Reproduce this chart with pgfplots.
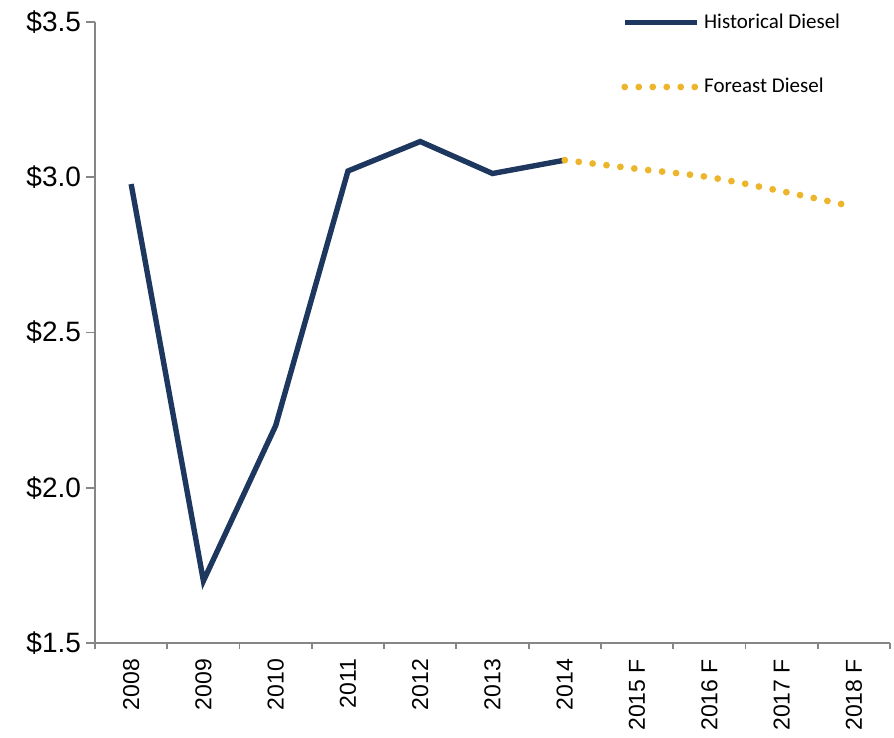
\documentclass[border=0pt]{standalone}
\usepackage{pgfplots}
\pgfplotsset{compat=1.18}
\usepackage{fontspec}
\setmainfont{Liberation Sans}
\newfontfamily\calibri{Carlito}
\definecolor{navy}{RGB}{30,55,95}
\definecolor{gold}{RGB}{237,181,43}
\definecolor{axisgray}{RGB}{134,134,134}

\begin{document}
\begin{tikzpicture}
\begin{axis}[
    scale only axis,
    width=397.5pt, height=310.5pt,
    xmin=-0.5, xmax=10.5, ymin=1.5, ymax=3.5,
    axis x line*=bottom, axis y line*=left,
    axis line style={draw=axisgray, line width=0.9pt},
    xtick={0,...,10},
    xticklabels={2008,2009,2010,2011,2012,2013,2014,2015 F,2016 F,2017 F,2018 F},
    minor xtick={-0.5,0.5,...,10.5},
    major x tick style={draw=none},
    minor x tick style={draw=axisgray, line width=0.9pt},
    y tick style={draw=axisgray, line width=0.9pt},
    tick align=outside,
    major tick length=4.5pt, minor tick length=3pt,
    ytick={1.5,2.0,2.5,3.0,3.5},
    yticklabels={\$1.5,\$2.0,\$2.5,\$3.0,\$3.5},
    yticklabel style={font=\fontsize{14}{16}\selectfont, text=black, xshift=1pt},
    xticklabel style={rotate=90, anchor=east, font=\fontsize{11.5}{13}\selectfont, text=black},
    clip=false,
    legend style={at={(0.654,1.027)}, anchor=north west, draw=none, fill=none,
        row sep=19.5pt, font=\calibri\fontsize{10.5}{12}\selectfont},
    legend cell align=left,
    legend image code/.code={\draw[#1] (0pt,0pt) -- (36pt,0pt);},
]
% Historical Diesel
\addplot[navy, line width=2.7pt] coordinates {
    (0,2.978) (1,1.70) (2,2.20) (3,3.02) (4,3.115) (5,3.012) (6,3.055)};
\addlegendentry{Historical Diesel}
% Forecast Diesel
\addplot[gold, line width=3.4pt, line cap=round, dash pattern=on 0pt off 7pt, smooth] coordinates {
    (6,3.055) (7,3.027) (8,3.0) (9,2.955) (10,2.905)};
\addlegendentry{Foreast Diesel}
\path (rel axis cs:-0.1195,-0.148) rectangle (rel axis cs:1.005,1.0354);
\end{axis}
\end{tikzpicture}
\end{document}
